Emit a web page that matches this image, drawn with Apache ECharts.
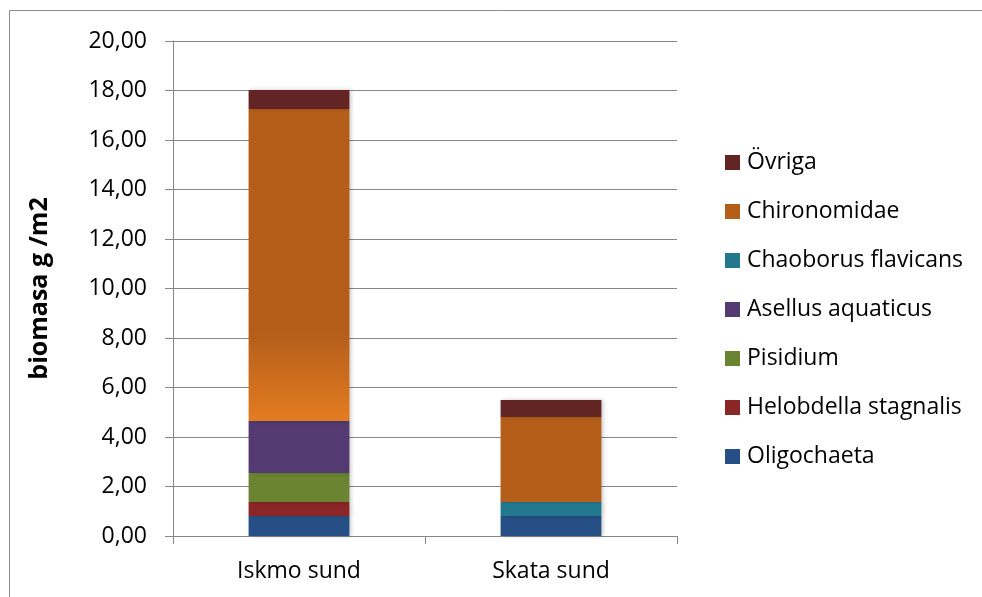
<!DOCTYPE html>
<html>
<head>
<meta charset="utf-8">
<script src="https://cdn.jsdelivr.net/npm/echarts@6/dist/echarts.min.js"></script>
<style>
	html, body { margin: 0; padding: 0; background: #fff; }
	#chart { width: 982px; height: 597px; }
</style>
</head>
<body>
<div id="chart"></div>
<script>
// data (biomasa g/m2)
var categories = ['Iskmo sund', 'Skata sund'];
var oligochaeta = [0.81, 0.81];
var helobdella = [0.56, 0];
var pisidium = [1.18, 0];
var asellus = [2.10, 0];
var chaoborus = [0, 0.56];
var chironomidae = [12.60, 3.44];
var ovriga = [0.77, 0.69];

var yTicks = [0, 2, 4, 6, 8, 10, 12, 14, 16, 18, 20];

var font = '"Open Sans", Lato, sans-serif';

var chart = echarts.init(document.getElementById('chart'));

function bar(name, data, color) {
	return {
		name: name,
		type: 'bar',
		stack: 'total',
		barWidth: '40%',
		itemStyle: {
			color: color,
			shadowColor: 'rgba(0,0,0,0.22)',
			shadowBlur: 4,
			shadowOffsetX: 2
		},
		data: data
	};
}

// the Chironomidae block in Iskmo sund fades to orange at its base
var chironData = chironomidae.map(function(v, i) {
	if (i === 0) {
		return {
			value: v,
			itemStyle: {
				color: new echarts.graphic.LinearGradient(0, 0, 0, 1, [
					{ offset: 0, color: '#B45E1A' },
					{ offset: 0.72, color: '#B45E1A' },
					{ offset: 1, color: '#E47C21' }
				])
			}
		};
	}
	return v;
});

var option = {
	animation: false,
	textStyle: { fontFamily: font },
	graphic: [{
		type: 'rect',
		shape: { x: 9.5, y: 10.5, width: 1000, height: 620 },
		style: { fill: 'none', stroke: '#8a8a8a', lineWidth: 1 },
		silent: true
	}],
	grid: {
		left: 173,
		top: 41,
		width: 504,
		height: 495
	},
	legend: {
		orient: 'vertical',
		left: 720,
		top: 146,
		itemWidth: 15,
		itemHeight: 15,
		itemGap: 26,
		icon: 'rect',
		textStyle: { fontSize: 23, color: '#000', fontFamily: font, padding: [0, 0, 0, 2] },
		data: ['Övriga', 'Chironomidae', 'Chaoborus flavicans', 'Asellus aquaticus', 'Pisidium', 'Helobdella stagnalis', 'Oligochaeta']
	},
	xAxis: {
		type: 'category',
		data: categories,
		axisLine: { lineStyle: { color: '#868686', width: 1 } },
		axisTick: { show: true, length: 8, lineStyle: { color: '#868686' } },
		axisLabel: { fontSize: 23, color: '#000', margin: 24, fontFamily: font }
	},
	yAxis: {
		type: 'value',
		min: yTicks[0],
		max: yTicks[yTicks.length - 1],
		interval: 2,
		name: 'biomasa g /m2',
		nameLocation: 'middle',
		nameGap: 121,
		nameTextStyle: { fontSize: 25, fontWeight: 'bold', color: '#000', fontFamily: font },
		axisLine: { show: true, lineStyle: { color: '#868686', width: 1 } },
		axisTick: { show: true, length: 8, lineStyle: { color: '#868686' } },
		splitLine: { lineStyle: { color: '#868686', width: 1 } },
		axisLabel: {
			fontSize: 23,
			color: '#000',
			margin: 26,
			fontFamily: font,
			formatter: function(v) { return v.toFixed(2).replace('.', ','); }
		}
	},
	series: [
		bar('Oligochaeta', oligochaeta, '#265085'),
		bar('Helobdella stagnalis', helobdella, '#8B2626'),
		bar('Pisidium', pisidium, '#6A8431'),
		bar('Asellus aquaticus', asellus, '#533A71'),
		bar('Chaoborus flavicans', chaoborus, '#22798E'),
		bar('Chironomidae', chironData, '#B45E1A'),
		bar('Övriga', ovriga, '#632523')
	]
};

chart.setOption(option);
</script>
</body>
</html>
